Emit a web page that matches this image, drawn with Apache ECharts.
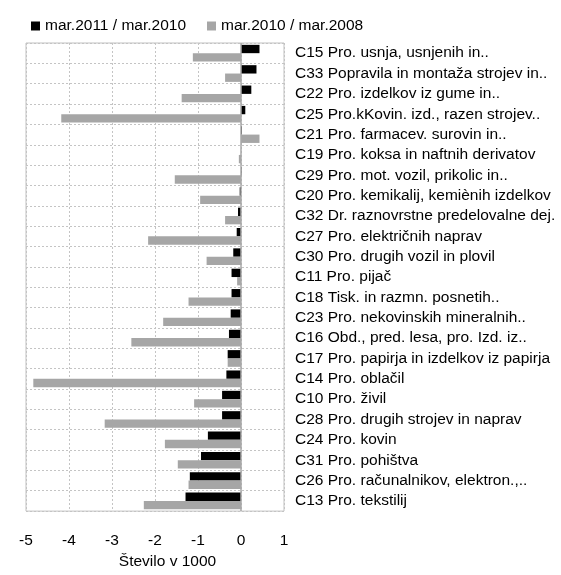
<!DOCTYPE html>
<html>
<head>
<meta charset="utf-8">
<script src="https://cdn.jsdelivr.net/npm/echarts@6/dist/echarts.min.js"></script>
<style>html,body{margin:0;padding:0;background:#fff}#c{width:561px;height:575px}</style>
</head>
<body>
<div id="c"></div>
<script>
const categories = [
  "C15 Pro. usnja, usnjenih in..",
  "C33 Popravila in montaža strojev in..",
  "C22 Pro. izdelkov iz gume in..",
  "C25 Pro.kKovin. izd., razen strojev..",
  "C21 Pro. farmacev. surovin in..",
  "C19 Pro. koksa in naftnih derivatov",
  "C29 Pro. mot. vozil, prikolic in..",
  "C20 Pro. kemikalij, kemiènih izdelkov",
  "C32 Dr. raznovrstne predelovalne dej.",
  "C27 Pro. električnih naprav",
  "C30 Pro. drugih vozil in plovil",
  "C11 Pro. pijač",
  "C18 Tisk. in razmn. posnetih..",
  "C23 Pro. nekovinskih mineralnih..",
  "C16 Obd., pred. lesa, pro. Izd. iz..",
  "C17 Pro. papirja in izdelkov iz papirja",
  "C14 Pro. oblačil",
  "C10 Pro. živil",
  "C28 Pro. drugih strojev in naprav",
  "C24 Pro. kovin",
  "C31 Pro. pohištva",
  "C26 Pro. računalnikov, elektron.,..",
  "C13 Pro. tekstilij"
];
const series2011 = [0.43, 0.36, 0.24, 0.10, 0.02, 0.0, 0.01, -0.03, -0.07, -0.10, -0.18, -0.22, -0.22, -0.24, -0.28, -0.31, -0.34, -0.44, -0.44, -0.77, -0.93, -1.19, -1.29];
const series2010 = [-1.12, -0.37, -1.38, -4.18, 0.43, -0.05, -1.54, -0.95, -0.37, -2.16, -0.80, -0.09, -1.22, -1.81, -2.55, -0.31, -4.83, -1.09, -3.17, -1.77, -1.47, -1.22, -2.26];
const seriesNames = ["mar.2011 / mar.2010", "mar.2010 / mar.2008"];
const xTicks = { min: -5, max: 1, interval: 1 };

const FONT = '"Liberation Sans", Arial, sans-serif';
const chart = echarts.init(document.getElementById('c'), null, { renderer: 'canvas' });
chart.setOption({
  animation: false,
  textStyle: { fontFamily: FONT },
  legend: {
    top: 13, left: 26,
    itemWidth: 9, itemHeight: 9, itemGap: 21,
    icon: 'rect',
    textStyle: { fontSize: 15.5, color: '#000', fontFamily: FONT },
    data: seriesNames
  },
  grid: { left: 26, right: 277, top: 43, bottom: 50, show: true, borderColor: '#c0c0c0', borderWidth: 1, containLabel: false },
  xAxis: {
    type: 'value', min: xTicks.min, max: xTicks.max, interval: xTicks.interval,
    axisLine: { show: false }, axisTick: { show: false },
    axisLabel: { margin: 22, fontSize: 15.5, color: '#000', fontFamily: FONT },
    splitLine: { show: true, lineStyle: { type: [2, 2], color: '#c4c4c4', width: 1 } },
    name: 'Število v 1000', nameLocation: 'middle', nameGap: 40,
    nameTextStyle: { fontSize: 15.5, color: '#000', fontFamily: FONT, padding: [0, 0, 0, 25] }
  },
  yAxis: {
    type: 'category', data: categories, inverse: true, position: 'right',
    axisLine: { show: false }, axisTick: { show: false },
    axisLabel: { interval: 0, margin: 11, fontSize: 15.5, color: '#000', fontFamily: FONT, align: 'left' },
    splitLine: { show: true, interval: 0, lineStyle: { type: [2, 2], color: '#c4c4c4', width: 1 } }
  },
  series: [
    {
      name: seriesNames[0], type: 'bar', data: series2011,
      itemStyle: { color: '#000000' },
      barGap: '0%', barCategoryGap: '18%',
      markLine: {
        silent: true, symbol: 'none', label: { show: false },
        lineStyle: { color: '#a8a8a8', width: 1.5, type: 'solid' },
        data: [{ xAxis: 0 }]
      }
    },
    {
      name: seriesNames[1], type: 'bar', data: series2010,
      itemStyle: { color: '#a6a6a6' },
      barGap: '0%', barCategoryGap: '18%'
    }
  ]
});
</script>
</body>
</html>
